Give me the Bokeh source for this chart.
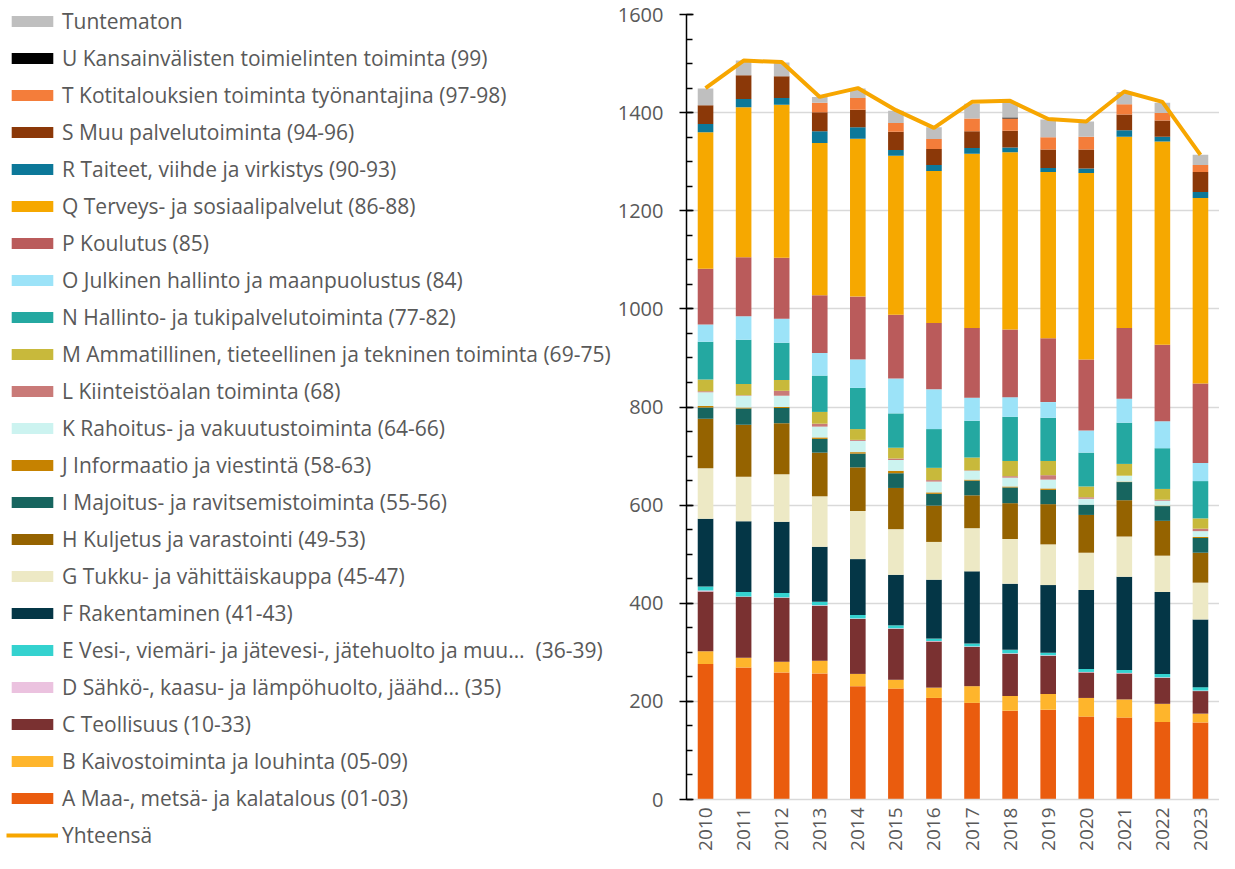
import math
from bokeh.plotting import figure
from bokeh.layouts import row, column
from bokeh.models import ColumnDataSource, FactorRange, Range1d, Legend, LegendItem, SingleIntervalTicker
from bokeh.embed import file_html
from bokeh.resources import INLINE

years = [str(y) for y in range(2010, 2024)]

A = [276, 269, 259, 257, 231, 226, 207, 197, 181, 183, 169, 167, 158, 157]
B = [26, 20, 22, 26, 25, 18, 21, 34, 30, 32, 38, 37, 37, 18]
C = [122, 124, 130, 112, 112, 104, 94, 80, 86, 78, 52, 53, 53, 46]
D = [2, 1, 1, 1, 1, 1, 1, 1, 1, 1, 1, 1, 1, 1]
E = [8, 9, 9, 7, 7, 6, 5, 6, 7, 5, 6, 6, 7, 7]
F = [138, 144, 145, 112, 114, 103, 120, 147, 135, 138, 161, 190, 167, 138]
G = [103, 91, 97, 103, 98, 93, 77, 88, 91, 83, 76, 82, 74, 75]
H = [101, 106, 104, 89, 89, 84, 74, 67, 73, 82, 77, 74, 71, 61]
I = [23, 33, 31, 28, 28, 30, 24, 30, 32, 29, 21, 37, 30, 30]
J = [3, 2, 2, 3, 3, 5, 3, 2, 2, 3, 0, 1, 1, 2]
K = [28, 24, 23, 22, 23, 22, 22, 18, 18, 18, 12, 12, 10, 12]
L = [2, 1, 10, 6, 2, 3, 3, 1, 3, 9, 3, 0, 2, 5]
M = [24, 23, 22, 24, 22, 22, 25, 26, 31, 29, 22, 24, 22, 21]
N = [77, 90, 76, 74, 84, 70, 79, 75, 90, 88, 69, 84, 83, 76]
O = [35, 48, 49, 46, 58, 71, 81, 47, 40, 32, 45, 49, 55, 37]
P = [114, 120, 124, 118, 128, 130, 135, 142, 138, 130, 145, 144, 156, 162]
Q = [278, 306, 312, 310, 322, 324, 310, 355, 361, 339, 380, 390, 414, 378]
R = [17, 17, 14, 24, 23, 12, 12, 12, 10, 8, 9, 13, 10, 12]
S = [38, 48, 44, 39, 36, 37, 33, 34, 34, 38, 39, 32, 33, 41]
T = [0, 0, 0, 19, 24, 18, 20, 26, 25, 25, 26, 21, 15, 14]
U = [0, 0, 0, 0, 0, 0, 0, 0, 2, 0, 0, 0, 0, 0]
Tun = [34, 30, 28, 12, 19, 25, 24, 30, 30, 36, 31, 25, 21, 21]
total = [1450, 1506, 1503, 1432, 1450, 1405, 1369, 1422, 1424, 1387, 1382, 1443, 1422, 1314]

keys = ["A", "B", "C", "D", "E", "F", "G", "H", "I", "J", "K", "L", "M",
        "N", "O", "P", "Q", "R", "S", "T", "U", "Tun"]
labels = [
    "A Maa-, metsä- ja kalatalous (01-03)",
    "B Kaivostoiminta ja louhinta (05-09)",
    "C Teollisuus (10-33)",
    "D Sähkö-, kaasu- ja lämpöhuolto, jäähd… (35)",
    "E Vesi-, viemäri- ja jätevesi-, jätehuolto ja muu…  (36-39)",
    "F Rakentaminen (41-43)",
    "G Tukku- ja vähittäiskauppa (45-47)",
    "H Kuljetus ja varastointi (49-53)",
    "I Majoitus- ja ravitsemistoiminta (55-56)",
    "J Informaatio ja viestintä (58-63)",
    "K Rahoitus- ja vakuutustoiminta (64-66)",
    "L Kiinteistöalan toiminta (68)",
    "M Ammatillinen, tieteellinen ja tekninen toiminta (69-75)",
    "N Hallinto- ja tukipalvelutoiminta (77-82)",
    "O Julkinen hallinto ja maanpuolustus (84)",
    "P Koulutus (85)",
    "Q Terveys- ja sosiaalipalvelut (86-88)",
    "R Taiteet, viihde ja virkistys (90-93)",
    "S Muu palvelutoiminta (94-96)",
    "T Kotitalouksien toiminta työnantajina (97-98)",
    "U Kansainvälisten toimielinten toiminta (99)",
    "Tuntematon",
]
colors = ["#EA5C0E", "#FEB52C", "#7A3131", "#EBC2DF", "#34D2CF", "#043646",
          "#EDE9C5", "#956300", "#17655F", "#C68200", "#CCF3F0", "#C97A78",
          "#C8B93B", "#24A8A1", "#9CE3F8", "#BA5B5B", "#F6A800", "#0C7899",
          "#8B3808", "#F47D3A", "#000000", "#BFBFBF"]
line_label = "Yhteensä"
line_color = "#F7A600"

data = dict(year=years, A=A, B=B, C=C, D=D, E=E, F=F, G=G, H=H, I=I, J=J, K=K,
            L=L, M=M, N=N, O=O, P=P, Q=Q, R=R, S=S, T=T, U=U, Tun=Tun, total=total)
source = ColumnDataSource(data)

FONT = "Open Sans"
TXT = "#595959"

# ---------------- chart ----------------
p = figure(width=605, height=853, output_backend="svg", toolbar_location=None,
           x_range=FactorRange(*years, range_padding=0), y_range=Range1d(0, 1600),
           min_border_left=69, min_border_right=0, min_border_top=14,
           min_border_bottom=48)
p.outline_line_color = None
p.background_fill_color = "white"
p.border_fill_color = "white"

bars = p.vbar_stack(keys, x="year", width=0.41, color=colors, line_color=None, source=source)
ln = p.line(x="year", y="total", color=line_color, line_width=4, source=source)

p.yaxis.ticker = SingleIntervalTicker(interval=200, num_minor_ticks=4)
p.yaxis.axis_line_color = "black"
p.yaxis.axis_line_width = 1.5
p.yaxis.major_tick_line_color = "black"
p.yaxis.major_tick_line_width = 1.5
p.yaxis.major_tick_in = 7
p.yaxis.major_tick_out = 7
p.yaxis.minor_tick_line_color = "black"
p.yaxis.minor_tick_line_width = 1.5
p.yaxis.minor_tick_in = 6
p.yaxis.minor_tick_out = 0
p.yaxis.major_label_text_font = FONT
p.yaxis.major_label_text_font_size = "20px"
p.yaxis.major_label_text_color = TXT
p.yaxis.major_label_standoff = 16

p.xaxis.axis_line_color = "#D9D9D9"
p.xaxis.axis_line_width = 1.5
p.xaxis.major_tick_line_color = None
p.xaxis.minor_tick_line_color = None
p.xaxis.major_label_orientation = math.pi / 2
p.xaxis.major_label_text_font = FONT
p.xaxis.major_label_text_font_size = "19px"
p.xaxis.major_label_text_color = TXT
p.xaxis.major_label_standoff = 2

p.xgrid.grid_line_color = None
p.ygrid.ticker = SingleIntervalTicker(interval=200)
p.ygrid.grid_line_color = "#D9D9D9"
p.ygrid.grid_line_width = 1.5

# ---------------- legend panel (zero-width, off-range copies: only their styles show) ----------------
pl = figure(width=614, height=853, output_backend="svg", toolbar_location=None,
            x_range=FactorRange(*years), y_range=Range1d(-20, -10),
            x_axis_location=None, y_axis_location=None,
            min_border_left=0, min_border_right=0, min_border_top=0, min_border_bottom=0)
pl.outline_line_color = None
pl.xgrid.grid_line_color = None
pl.ygrid.grid_line_color = None
lbars = pl.vbar_stack(keys, x="year", width=0, color=colors, line_color=None, source=source)
lln = pl.line(x="year", y="total", color=line_color, line_width=4, source=source)

items = [LegendItem(label=labels[i], renderers=[lbars[i]]) for i in range(len(keys) - 1, -1, -1)]
items.append(LegendItem(label=line_label, renderers=[lln]))
legend = Legend(items=items, location="top_left", orientation="vertical",
                margin=6, padding=0, spacing=8, label_height=29, glyph_height=14,
                glyph_width=52, label_standoff=4, border_line_color=None,
                background_fill_alpha=0, label_text_font=FONT,
                label_text_font_size="21px", label_text_color=TXT)
pl.add_layout(legend, "center")

layout = row(column(pl), p)
open("out.html", "w").write(file_html(layout, INLINE))
